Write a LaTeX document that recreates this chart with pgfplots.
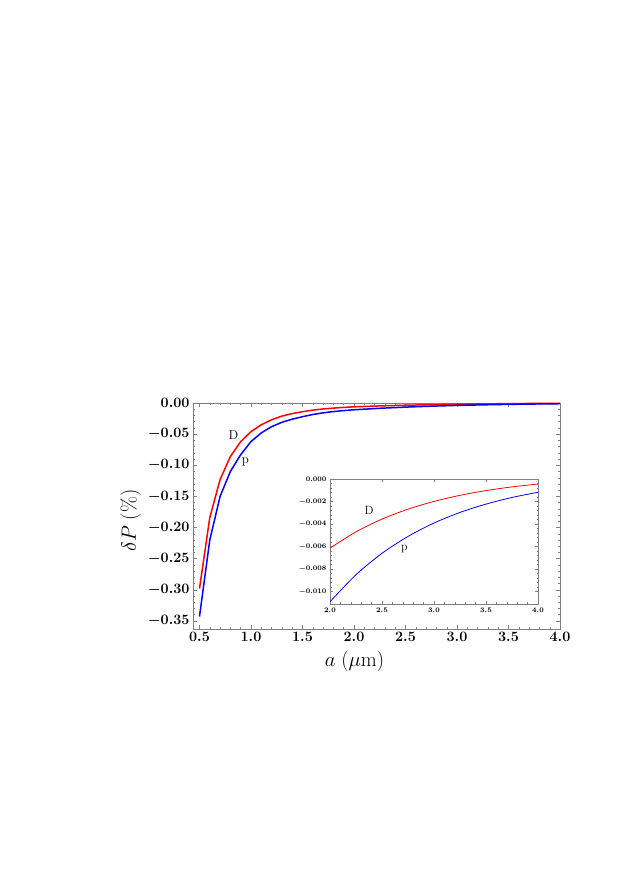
\documentclass[border=0pt]{standalone}
\usepackage{pgfplots}
\pgfplotsset{compat=1.18}

% D and p curves, delta P in percent
\pgfplotstableread{
a      D        p
0.5   -0.298   -0.343
0.6   -0.184   -0.220
0.7   -0.123   -0.150
0.8   -0.086   -0.110
0.9   -0.062   -0.083
1.0   -0.046   -0.062
1.1   -0.035   -0.048
1.2   -0.027   -0.038
1.3   -0.021   -0.031
1.4   -0.017   -0.026
1.5   -0.014   -0.022
1.6   -0.0115  -0.0185
1.7   -0.0096  -0.0158
1.8   -0.0082  -0.0138
1.9   -0.0071  -0.0122
2.0   -0.00614 -0.0109
2.25  -0.00469 -0.0085
2.5   -0.00356 -0.0066
2.75  -0.00268 -0.0051
3.0   -0.00199 -0.00391
3.25  -0.00145 -0.00297
3.5   -0.00103 -0.00223
3.75  -0.00070 -0.00164
4.0   -0.00045 -0.00118
}\dP

\pgfplotstableread{
a      D        p
2.0   -0.00614 -0.0109
2.25  -0.00469 -0.0085
2.5   -0.00356 -0.0066
2.75  -0.00268 -0.0051
3.0   -0.00199 -0.00391
3.25  -0.00145 -0.00297
3.5   -0.00103 -0.00223
3.75  -0.00070 -0.00164
4.0   -0.00045 -0.00118
}\dPinset

\begin{document}
\begin{tikzpicture}
\useasboundingbox (0,0) rectangle (623bp,881bp);
\begin{axis}[
    at={(193bp,252bp)}, anchor=south west,
    scale only axis, width=367bp, height=226bp,
    xmin=0.437, xmax=4.0, ymin=-0.363, ymax=0,
    xtick={0.5,1.0,...,4.0}, ytick={-0.35,-0.30,...,0.0},
    minor x tick num=4, minor y tick num=4,
    tick align=inside, major tick length=4bp, minor tick length=2bp,
    axis line style={gray}, every tick/.style={gray},
    scaled y ticks=false,
    xticklabel style={font=\boldmath\fontsize{15}{17}\selectfont,
        /pgf/number format/.cd, fixed, fixed zerofill, precision=1},
    yticklabel style={font=\boldmath\fontsize{15}{17}\selectfont,
        /pgf/number format/.cd, fixed, fixed zerofill, precision=2},
    xlabel={$a\ (\mu\mathrm{m})$}, ylabel={$\delta P\ (\%)$},
    label style={font=\fontsize{20}{24}\selectfont},
    xlabel style={at={(ticklabel cs:0.44)}, anchor=north, yshift=-2bp},
    ylabel style={at={(ticklabel cs:0.48)}, anchor=south},
]
\addplot[red, line width=1.5pt] table[x=a, y=D] {\dP};
\addplot[blue, line width=1.5pt] table[x=a, y=p] {\dP};
\node[font=\fontsize{13}{15}\selectfont] at (axis cs:0.83,-0.052) {D};
\node[font=\fontsize{13}{15}\selectfont] at (axis cs:0.945,-0.094) {p};
\end{axis}

\begin{axis}[
    at={(330bp,277bp)}, anchor=south west,
    scale only axis, width=208bp, height=125bp,
    axis background/.style={fill=white},
    xmin=2.0, xmax=4.0, ymin=-0.0111, ymax=0,
    xtick={2.0,2.5,...,4.0}, ytick={-0.010,-0.008,-0.006,-0.004,-0.002,0},
    minor x tick num=4, minor y tick num=4,
    tick align=inside, major tick length=3bp, minor tick length=1.5bp,
    axis line style={gray}, every tick/.style={gray},
    scaled y ticks=false,
    xticklabel style={font=\boldmath\fontsize{7.5}{8}\selectfont,
        /pgf/number format/.cd, fixed, fixed zerofill, precision=1},
    yticklabel style={font=\boldmath\fontsize{7.5}{8}\selectfont,
        /pgf/number format/.cd, fixed, fixed zerofill, precision=3},
]
\addplot[red, line width=0.8pt, smooth] table[x=a, y=D] {\dPinset};
\addplot[blue, line width=0.8pt, smooth] table[x=a, y=p] {\dPinset};
\node[font=\fontsize{12}{14}\selectfont] at (axis cs:2.375,-0.0028) {D};
\node[font=\fontsize{12}{14}\selectfont] at (axis cs:2.715,-0.0062) {p};
\end{axis}
\end{tikzpicture}
\end{document}
